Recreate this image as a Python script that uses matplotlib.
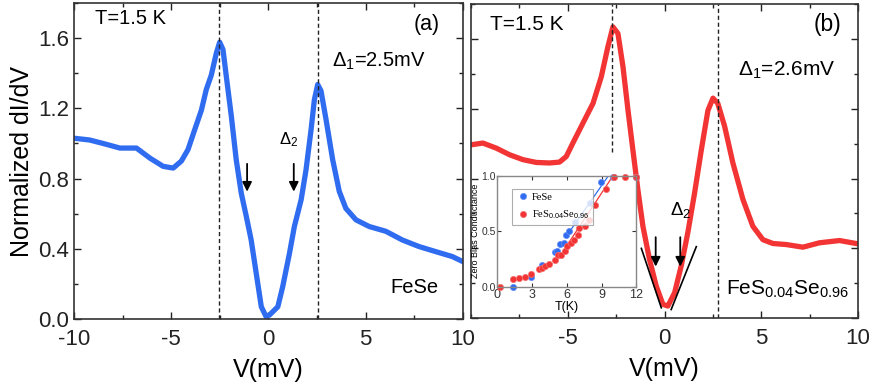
import matplotlib
matplotlib.use('Agg')
import matplotlib.pyplot as plt
from matplotlib.ticker import MultipleLocator

plt.rcParams['font.family'] = ['Liberation Sans', 'DejaVu Sans']
plt.rcParams['mathtext.fontset'] = 'custom'
plt.rcParams['mathtext.rm'] = 'Liberation Sans'
plt.rcParams['mathtext.it'] = 'Liberation Sans'
plt.rcParams['axes.unicode_minus'] = False

# panel (a): FeSe spectrum at 1.5 K
fese_v = [-10.0, -9.2, -8.5, -7.64, -6.79, -6.1, -5.42, -4.9, -4.48, -4.14,
          -3.79, -3.45, -3.2, -2.94, -2.68, -2.51, -2.34, -2.17, -1.91, -1.66,
          -1.4, -1.14, -0.89, -0.63, -0.37, -0.12, 0.05, 0.48, 0.73, 1.08,
          1.33, 1.68, 1.93, 2.19, 2.36, 2.53, 2.70, 2.96, 3.3, 3.64, 3.98,
          4.5, 5.18, 6.03, 6.89, 7.74, 8.6, 9.45, 10.0]
fese_g = [1.03, 1.02, 1.0, 0.974, 0.974, 0.917, 0.87, 0.86, 0.90, 0.965,
          1.08, 1.19, 1.307, 1.39, 1.516, 1.577, 1.535, 1.383, 1.155, 0.908,
          0.717, 0.584, 0.45, 0.26, 0.07, 0.013, 0.023, 0.07, 0.184, 0.375,
          0.527, 0.68, 0.85, 1.079, 1.25, 1.336, 1.30, 1.136, 0.908, 0.727,
          0.63, 0.565, 0.527, 0.50, 0.45, 0.413, 0.384, 0.356, 0.327]

# panel (b): FeS0.04Se0.96 spectrum at 1.5 K
fess_v = [-10.0, -9.39, -8.7, -8.01, -7.32, -6.63, -5.94, -5.43, -5.08, -4.74,
          -4.22, -3.7, -3.27, -2.93, -2.67, -2.41, -2.15, -1.89, -1.64, -1.38,
          -1.12, -0.78, -0.43, -0.09, 0.17, 0.52, 0.86, 1.2, 1.55, 1.9, 2.24,
          2.5, 2.75, 3.1, 3.53, 4.05, 4.56, 5.08, 5.6, 6.29, 7.15, 8.0, 9.04,
          10.0]
fess_g = [0.993, 1.003, 0.974, 0.936, 0.908, 0.892, 0.889, 0.894, 0.926, 1.003,
          1.117, 1.23, 1.383, 1.554, 1.668, 1.63, 1.44, 1.19, 0.965, 0.736,
          0.527, 0.337, 0.184, 0.08, 0.07, 0.147, 0.30, 0.49, 0.717, 0.965,
          1.19, 1.26, 1.23, 1.10, 0.889, 0.68, 0.527, 0.45, 0.428, 0.422,
          0.407, 0.432, 0.445, 0.426]

# inset: zero bias conductance vs T
zbc_fese_t = [1.38, 2.9, 3.9, 4.94, 5.18, 5.4, 5.73, 5.97, 6.2, 6.7, 8.03,
              8.97, 10.0, 11.94]
zbc_fese = [0.0, 0.09, 0.196, 0.31, 0.32, 0.385, 0.39, 0.47, 0.50, 0.58,
            0.75, 0.94, 0.99, 0.99]
zbc_fess_t = [0.24, 1.35, 1.85, 2.4, 2.94, 3.56, 3.85, 4.1, 4.44, 4.94, 5.24,
              5.53, 5.82, 6.03, 6.4, 6.65, 6.94, 7.06, 7.53, 7.88, 8.4, 9.35,
              10.1, 11.0, 11.94]
zbc_fess = [0.0, 0.066, 0.075, 0.09, 0.11, 0.157, 0.17, 0.187, 0.20, 0.24,
            0.286, 0.29, 0.32, 0.367, 0.39, 0.42, 0.467, 0.527, 0.548, 0.60,
            0.74, 0.88, 0.99, 0.99, 0.99]
fit_fese_t = [6.0, 9.6]
fit_fese = [0.46, 1.0]
fit_fess_t = [5.5, 10.0]
fit_fess = [0.29, 1.0]

blue = '#306cf0'
red = '#f23434'

fig = plt.figure(figsize=(8.74, 3.83), dpi=100)
ax1 = fig.add_axes([0.0847, 0.167, 0.445, 0.825])
ax2 = fig.add_axes([0.539, 0.169, 0.4428, 0.821])


def style(ax):
    ax.set_xlim(-10, 10)
    ax.set_ylim(0, 1.8)
    ax.xaxis.set_major_locator(MultipleLocator(5))
    ax.xaxis.set_minor_locator(MultipleLocator(2.5))
    ax.yaxis.set_major_locator(MultipleLocator(0.4))
    ax.yaxis.set_minor_locator(MultipleLocator(0.2))
    ax.tick_params(which='both', direction='in', top=True, right=True,
                   labelsize=16, width=1.0, colors='#222222')
    ax.tick_params(which='major', length=5)
    ax.tick_params(which='minor', length=3)
    ax.tick_params(axis='x', pad=7)
    for s in ax.spines.values():
        s.set_linewidth(1.2)
        s.set_color('#333333')
    ax.set_xlabel('V(mV)', fontsize=18, labelpad=6)


style(ax1)
style(ax2)

ax1.plot(fese_v, fese_g, color=blue, lw=3.8, solid_joinstyle='round')
ax1.axvline(-2.56, color='#222222', ls='--', lw=1.0, dashes=(3, 2))
ax1.axvline(2.56, color='#222222', ls='--', lw=1.0, dashes=(3, 2))
ax1.set_ylabel('Normalized dI/dV', fontsize=18, labelpad=3)
ax1.yaxis.set_major_formatter(plt.FormatStrFormatter('%.1f'))
ax1.text(-8.92, 1.71, 'T=1.5 K', fontsize=14.5, va='center')
ax1.text(8.8, 1.68, '(a)', fontsize=15.5, ha='right', va='center')
ax1.text(3.28, 1.47, r'$\Delta_1$=2.5mV', fontsize=14.5, va='center')
ax1.text(6.29, 0.18, 'FeSe', fontsize=14.5, va='center')
ax1.text(0.56, 1.02, r'$\Delta_2$', fontsize=12, va='center')
for xa in (-1.1, 1.3):
    ax1.annotate('', xy=(xa, 0.71), xytext=(xa, 0.9),
                 arrowprops=dict(arrowstyle='-|>', color='black', lw=1.3,
                                 mutation_scale=14))

ax2.plot(fess_v, fess_g, color=red, lw=3.8, solid_joinstyle='round')
ax2.plot([-2.7, -2.7], [0.95, 1.8], color='#222222', ls='--', lw=1.0,
         dashes=(3, 2))
ax2.axvline(2.76, color='#222222', ls='--', lw=1.0, dashes=(3, 2))
ax2.plot([-1.2, -0.17], [0.40, 0.06], color='black', lw=1.2)
ax2.plot([1.64, 0.34], [0.41, 0.05], color='black', lw=1.2)
ax2.set_yticklabels([])
ax2.set_xticks([-5, 0, 5, 10])
ax2.text(-9.04, 1.68, 'T=1.5 K', fontsize=15, va='center')
ax2.text(9.13, 1.68, '(b)', fontsize=16.5, ha='right', va='center')
ax2.text(3.77, 1.42, r'$\Delta_1$=2.6mV', fontsize=15, va='center')
ax2.text(3.19, 0.166, r'FeS$_{0.04}$Se$_{0.96}$', fontsize=15, va='center')
ax2.text(0.26, 0.62, r'$\Delta_2$', fontsize=13.5, va='center')
for xa in (-0.46, 0.81):
    ax2.annotate('', xy=(xa, 0.28), xytext=(xa, 0.48),
                 arrowprops=dict(arrowstyle='-|>', color='black', lw=1.3,
                                 mutation_scale=14))

# inset
ax3 = fig.add_axes([0.569, 0.2514, 0.159, 0.290])
ax3.set_xlim(0, 12)
ax3.set_ylim(0, 1.0)
ax3.set_xticks([0, 3, 6, 9, 12])
ax3.set_yticks([0.0, 0.5, 1.0])
ax3.yaxis.set_major_formatter(plt.FormatStrFormatter('%.1f'))
ax3.tick_params(direction='in', top=True, right=True, labelsize=9,
                length=3, pad=2, colors='#333333')
ax3.tick_params(axis='y', labelsize=7.5, pad=1)
for s in ax3.spines.values():
    s.set_color('#888888')
    s.set_linewidth(1.0)
ax3.plot(fit_fese_t, fit_fese, color=blue, lw=0.9)
ax3.plot(fit_fess_t, fit_fess, color=red, lw=0.9)
ax3.plot(zbc_fese_t, zbc_fese, 'o', color=blue, ms=4.5, mec='#6a90f5',
         mew=0.5, label='FeSe', clip_on=False)
ax3.plot(zbc_fess_t, zbc_fess, 'o', color=red, ms=4.5, mec='#f57070',
         mew=0.5, label=r'FeS$_{0.04}$Se$_{0.96}$', clip_on=False)
ax3.set_xlabel('T(K)', fontsize=9, labelpad=0)
ax3.set_ylabel('Zero Bias Conductance', fontsize=6.5, labelpad=1)
leg = ax3.legend(loc='upper left', bbox_to_anchor=(0.07, 0.93),
                 prop={'family': 'Liberation Serif', 'size': 7.5},
                 frameon=True, fancybox=False, edgecolor='#999999',
                 handletextpad=0.3, borderpad=0.4, labelspacing=0.6,
                 handlelength=1.2)
leg.get_frame().set_linewidth(0.8)

fig.savefig('out.png', dpi=100)
